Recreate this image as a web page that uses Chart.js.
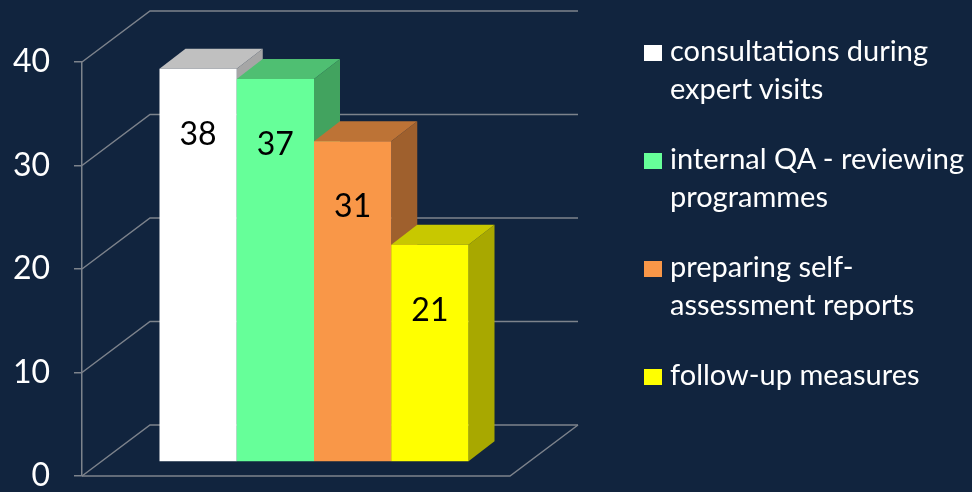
<!DOCTYPE html>
<html>
<head>
<meta charset="utf-8">
<script src="https://cdn.jsdelivr.net/npm/chart.js@4.4.1/dist/chart.umd.min.js"></script>
<style>
  html, body { margin: 0; padding: 0; background: #11243e; overflow: hidden; }
  #wrap { position: relative; width: 972px; height: 492px; }
  #myChart { position: absolute; left: 0; top: 0; }
  #legend {
    position: absolute; left: 644px; top: 31px;
    font-family: Lato, 'Noto Sans', sans-serif; font-size: 29px;
    line-height: 38px; color: #ffffff;
  }
  .item { position: relative; padding-left: 26px; margin-bottom: 32px; }
  .box { position: absolute; left: 0; top: 14px; width: 18px; height: 16px; }
</style>
</head>
<body>
<div id="wrap">
  <canvas id="myChart" width="972" height="492"></canvas>
  <div id="legend"></div>
</div>
<script>
// Legend labels, one array of lines per series.
const categories = [
  ['consultations during', 'expert visits'],
  ['internal QA - reviewing', 'programmes'],
  ['preparing self-', 'assessment reports'],
  ['follow-up measures'],
];
const values = [38, 37, 31, 21];
const yTicks = [0, 10, 20, 30, 40];

const frontColors = ['#ffffff', '#66ff99', '#f99748', '#ffff00'];
const topColors = ['#c0c0c0', '#4fbf72', '#bd7336', '#c8c800'];
const sideColors = ['#a6a6a6', '#42a35f', '#9f602d', '#a8a800'];

const gridColor = '#7d838c';
const wall = { dx: 68, dy: -51 }; // depth of the back wall
const barShift = { dx: 18, dy: -14 }; // where the bars sit inside the box
const barDepth = { dx: 26, dy: -20 };

function poly(ctx, pts, fill) {
  ctx.beginPath();
  ctx.moveTo(pts[0][0], pts[0][1]);
  for (let i = 1; i < pts.length; i++) ctx.lineTo(pts[i][0], pts[i][1]);
  ctx.closePath();
  ctx.fillStyle = fill;
  ctx.fill();
}

// Draws the back wall, floor and the boxes for every bar.
const box3d = {
  id: 'box3d',
  beforeDatasetsDraw(chart) {
    const ctx = chart.ctx;
    const area = chart.chartArea;
    const y = chart.scales.y;

    ctx.save();
    ctx.strokeStyle = gridColor;
    ctx.lineWidth = 1.5;

    // gridlines run back from the axis and along the back wall
    yTicks.forEach((v) => {
      const py = y.getPixelForValue(v);
      ctx.beginPath();
      ctx.moveTo(area.left, py);
      ctx.lineTo(area.left + wall.dx, py + wall.dy);
      ctx.lineTo(area.right + wall.dx, py + wall.dy);
      ctx.stroke();
    });

    // front and right edges of the floor
    const floorY = y.getPixelForValue(0);
    ctx.beginPath();
    ctx.moveTo(area.left, floorY);
    ctx.lineTo(area.right, floorY);
    ctx.lineTo(area.right + wall.dx, floorY + wall.dy);
    ctx.stroke();

    // bars, left to right so each one hides the side of the last
    chart.data.datasets.forEach((ds, i) => {
      const bar = chart.getDatasetMeta(i).data[0];
      const L = bar.x - bar.width / 2 + barShift.dx;
      const R = bar.x + bar.width / 2 + barShift.dx;
      const T = bar.y + barShift.dy;
      const B = bar.base + barShift.dy;
      const ddx = barDepth.dx;
      const ddy = barDepth.dy;

      poly(ctx, [[R, T], [R + ddx, T + ddy], [R + ddx, B + ddy], [R, B]], sideColors[i]);
      poly(ctx, [[L, T], [L + ddx, T + ddy], [R + ddx, T + ddy], [R, T]], topColors[i]);
      poly(ctx, [[L, T], [R, T], [R, B], [L, B]], frontColors[i]);

      // value label on the front face
      ctx.fillStyle = '#000000';
      ctx.font = '32px Lato, sans-serif';
      ctx.textAlign = 'center';
      ctx.textBaseline = 'middle';
      ctx.fillText(String(ds.data[0]), (L + R) / 2, T + 66);
    });

    ctx.restore();
    return false;
  },
};

const data = {
  labels: [''],
  datasets: values.map((v, i) => ({
    label: categories[i].join(' '),
    data: [v],
    backgroundColor: frontColors[i],
  })),
};

const config = {
  type: 'bar',
  data: data,
  plugins: [box3d],
  options: {
    responsive: false,
    animation: false,
    categoryPercentage: 0.722,
    barPercentage: 1,
    layout: { padding: { left: 12, top: 62, right: 462, bottom: 16 } },
    plugins: {
      legend: { display: false },
      tooltip: { enabled: false },
    },
    scales: {
      x: { display: false },
      y: {
        min: 0,
        max: 40,
        afterBuildTicks: (scale) => {
          scale.ticks = yTicks.map((v) => ({ value: v }));
        },
        afterFit: (scale) => {
          // fixed axis width; the outer padding already leaves room for the end labels
          scale.width = 70;
          scale.paddingTop = 0;
          scale.paddingBottom = 0;
        },
        grid: {
          drawOnChartArea: false,
          drawTicks: true,
          tickLength: 8,
          color: gridColor,
          lineWidth: 1.5,
        },
        border: { color: gridColor, width: 1.5 },
        ticks: {
          color: '#ffffff',
          padding: 24,
          font: { family: 'Lato', size: 32 },
        },
      },
    },
  },
};

const myChart = new Chart(document.getElementById('myChart'), config);

// Legend beside the chart, built from the same series.
const legend = document.getElementById('legend');
categories.forEach((lines, i) => {
  const item = document.createElement('div');
  item.className = 'item';
  const box = document.createElement('span');
  box.className = 'box';
  box.style.background = frontColors[i];
  item.appendChild(box);
  lines.forEach((line) => {
    const row = document.createElement('div');
    row.textContent = line;
    item.appendChild(row);
  });
  legend.appendChild(item);
});
</script>
</body>
</html>
